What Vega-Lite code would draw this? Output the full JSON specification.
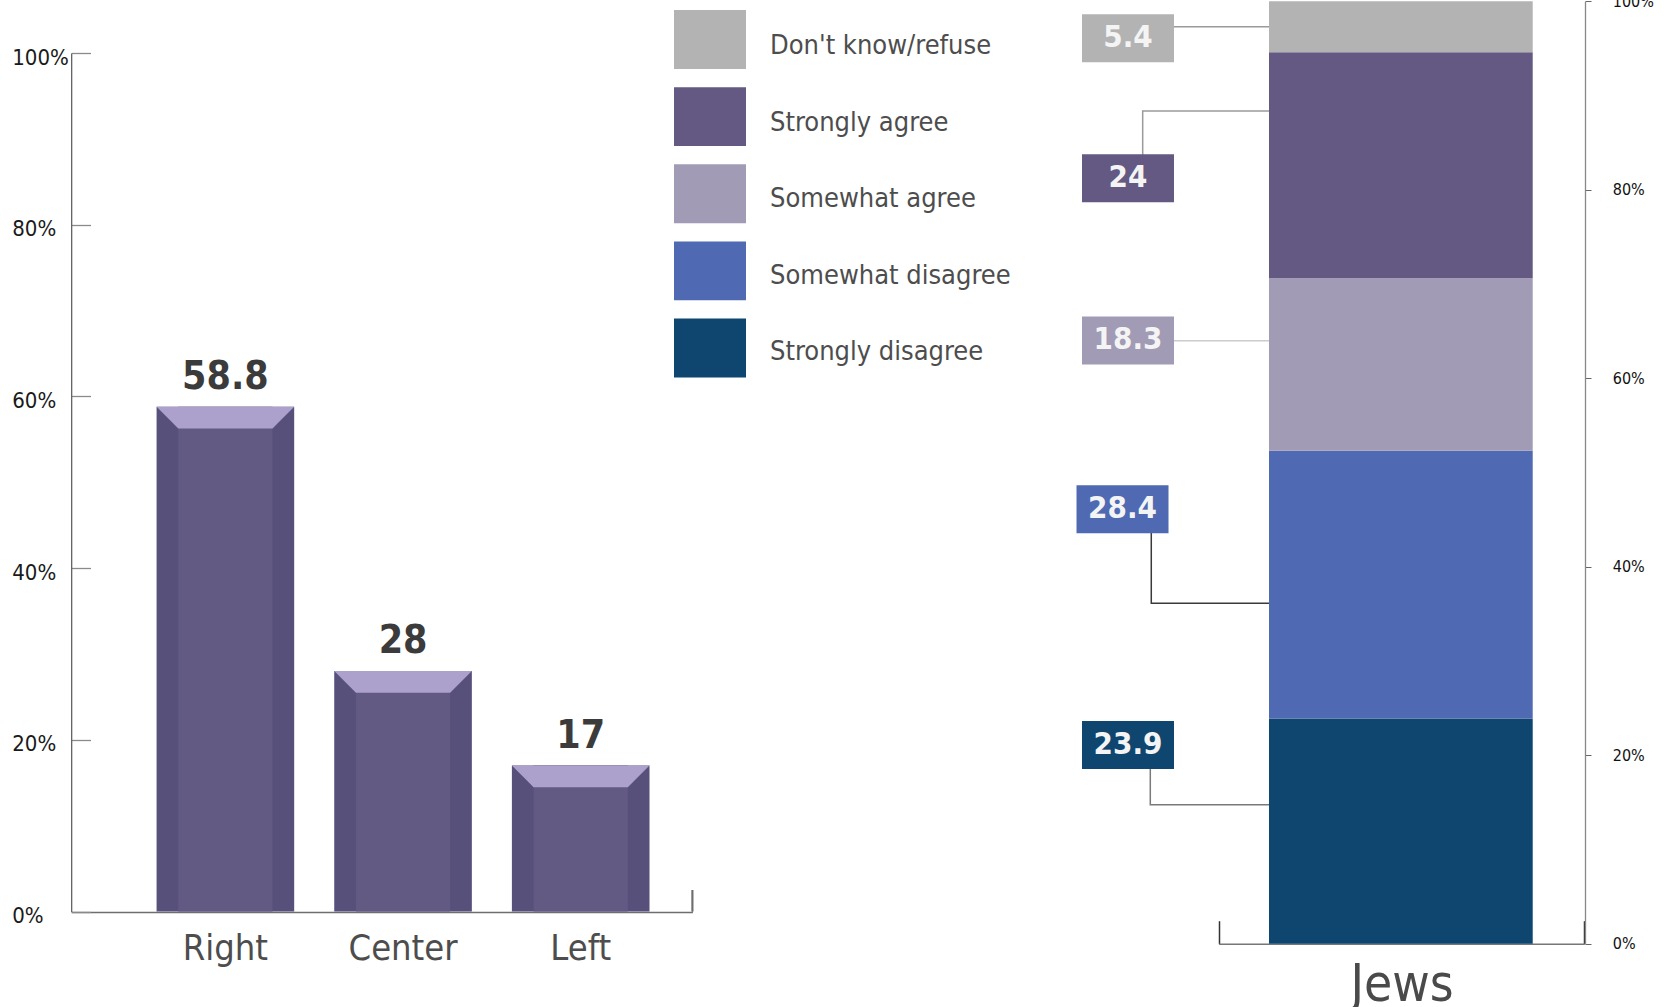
{
  "$schema": "https://vega.github.io/schema/vega-lite/v6.json",
  "width": 1666,
  "height": 1007,
  "padding": 0,
  "autosize": {"type": "none"},
  "background": "#ffffff",
  "config": {
    "view": {"stroke": null},
    "font": "DejaVu Sans Condensed, DejaVu Sans, sans-serif",
    "axis": {"grid": false}
  },
  "datasets": {
    "parties": [
      {"group": "Right", "pct": 58.8},
      {"group": "Center", "pct": 28},
      {"group": "Left", "pct": 17}
    ],
    "segments": [
      {"cat": "Strongly disagree", "value": 23.9},
      {"cat": "Somewhat disagree", "value": 28.4},
      {"cat": "Somewhat agree", "value": 18.3},
      {"cat": "Strongly agree", "value": 24},
      {"cat": "Don't know/refuse", "value": 5.4}
    ],
    "callouts": [
      {"cat": "Don't know/refuse", "value": 5.4, "bx": -24.81, "by": 96.07},
      {"cat": "Strongly agree", "value": 24, "bx": -24.81, "by": 81.22},
      {"cat": "Somewhat agree", "value": 18.3, "bx": -24.81, "by": 64.01},
      {"cat": "Somewhat disagree", "value": 28.4, "bx": -26.31, "by": 46.09},
      {"cat": "Strongly disagree", "value": 23.9, "bx": -24.81, "by": 21.08}
    ],
    "connectors": [
      {"cat": "Don't know/refuse", "step": 1, "cx": -24.81, "cy": 97.3},
      {"cat": "Don't know/refuse", "step": 2, "cx": 13.76, "cy": 97.3},
      {"cat": "Strongly agree", "step": 1, "cx": -20.79, "cy": 81.22},
      {"cat": "Strongly agree", "step": 2, "cx": -20.79, "cy": 88.36},
      {"cat": "Strongly agree", "step": 3, "cx": 13.76, "cy": 88.36},
      {"cat": "Somewhat agree", "step": 1, "cx": -24.81, "cy": 63.99},
      {"cat": "Somewhat agree", "step": 2, "cx": 13.76, "cy": 63.99},
      {"cat": "Somewhat disagree", "step": 1, "cx": -18.44, "cy": 46.09},
      {"cat": "Somewhat disagree", "step": 2, "cx": -18.44, "cy": 36.12},
      {"cat": "Somewhat disagree", "step": 3, "cx": 13.76, "cy": 36.12},
      {"cat": "Strongly disagree", "step": 1, "cx": -18.71, "cy": 21.08},
      {"cat": "Strongly disagree", "step": 2, "cx": -18.71, "cy": 14.75},
      {"cat": "Strongly disagree", "step": 3, "cx": 13.76, "cy": 14.75}
    ]
  },
  "layer": [
    {
      "data": {"name": "parties"},
      "mark": {"type": "rule", "color": "#6e6e6e", "strokeWidth": 1.5},
      "encoding": {
        "x": {"datum": "Left", "bandPosition": 1.312, "scale": {"type": "band", "domain": ["Right", "Center", "Left"], "range": [71.2, 692.4], "paddingInner": 0.2254, "paddingOuter": 0.361, "align": 0.6656, "round": false}, "axis": null},
        "y": {"datum": 0, "type": "quantitative", "scale": {"domain": [0, 100], "range": [911.5, 53], "nice": false}, "axis": null},
        "y2": {"datum": 2.5}
      }
    },
    {
      "data": {"name": "parties"},
      "mark": {"type": "bar", "color": "#57507A"},
      "encoding": {
        "x": {
          "field": "group", "type": "nominal", "title": null,
          "scale": {"type": "band", "domain": ["Right", "Center", "Left"], "range": [71.2, 692.4], "paddingInner": 0.2254, "paddingOuter": 0.361, "align": 0.6656, "round": false},
          "axis": {"orient": "bottom", "offset": -95, "labelAngle": 0, "labelFontSize": 36, "labelColor": "#4d4d4d", "labelPadding": 19, "ticks": false, "domainColor": "#6e6e6e", "domainWidth": 1.5, "title": null, "grid": false}
        },
        "y": {
          "field": "pct", "type": "quantitative",
          "scale": {"domain": [0, 100], "range": [911.5, 53], "nice": false},
          "axis": {"orient": "left", "offset": -71.2, "values": [0, 20, 40, 60, 80, 100], "labelExpr": "datum.value + '%'", "labelAlign": "left", "labelBaseline": "middle", "labelPadding": 78.8, "labelOffset": 4, "labelFontSize": 22, "labelColor": "#1a1a1a", "tickSize": -19.3, "tickColor": "#8a8a8a", "tickWidth": 1.3, "domainColor": "#555555", "domainWidth": 1.2, "grid": false, "title": null}
        }
      }
    },
    {
      "data": {"name": "parties"},
      "mark": {"type": "bar", "color": "#635A84", "width": {"band": 0.6846}},
      "encoding": {
        "x": {"field": "group", "type": "nominal", "scale": {"type": "band", "domain": ["Right", "Center", "Left"], "range": [71.2, 692.4], "paddingInner": 0.2254, "paddingOuter": 0.361, "align": 0.6656, "round": false}, "axis": null},
        "y": {"field": "pct", "type": "quantitative", "scale": {"domain": [0, 100], "range": [911.5, 53], "nice": false}, "axis": null}
      }
    },
    {
      "data": {"name": "parties"},
      "mark": {"type": "point", "shape": "M-1,0L1,0L0.6846,0.3154L-0.6846,0.3154Z", "size": 18934, "filled": true, "opacity": 1, "strokeWidth": 0, "color": "#ACA1CC"},
      "encoding": {
        "x": {"field": "group", "type": "nominal", "scale": {"type": "band", "domain": ["Right", "Center", "Left"], "range": [71.2, 692.4], "paddingInner": 0.2254, "paddingOuter": 0.361, "align": 0.6656, "round": false}, "axis": null},
        "y": {"field": "pct", "type": "quantitative", "scale": {"domain": [0, 100], "range": [911.5, 53], "nice": false}, "axis": null}
      }
    },
    {
      "data": {"name": "parties"},
      "mark": {"type": "text", "fontSize": 39, "fontWeight": "bold", "color": "#3b3b3b", "baseline": "alphabetic", "align": "center", "dy": -18},
      "encoding": {
        "x": {"field": "group", "type": "nominal", "scale": {"type": "band", "domain": ["Right", "Center", "Left"], "range": [71.2, 692.4], "paddingInner": 0.2254, "paddingOuter": 0.361, "align": 0.6656, "round": false}, "axis": null},
        "y": {"field": "pct", "type": "quantitative", "scale": {"domain": [0, 100], "range": [911.5, 53], "nice": false}, "axis": null},
        "text": {"field": "pct", "type": "quantitative"}
      }
    },
    {
      "data": {"name": "callouts"},
      "mark": {"type": "point", "shape": "M-1,-0.8194L1,-0.8194L1,0.8194L-1,0.8194Z", "size": 5184, "filled": true, "opacity": 1, "strokeWidth": 0},
      "encoding": {
        "x": {"datum": 0, "type": "quantitative", "scale": {"domain": [0, 1], "range": [710, 770], "nice": false, "zero": false}, "axis": null},
        "y": {"field": "cat", "type": "nominal", "scale": {"type": "point", "domain": ["Don't know/refuse", "Strongly agree", "Somewhat agree", "Somewhat disagree", "Strongly disagree"], "range": [39.5, 348], "padding": 0}, "axis": null},
        "color": {"field": "cat", "type": "nominal", "legend": null}
      }
    },
    {
      "data": {"name": "callouts"},
      "mark": {"type": "text", "fontSize": 27, "color": "#4d4d4d", "align": "left", "baseline": "middle"},
      "encoding": {
        "x": {"datum": 1, "type": "quantitative", "scale": {"domain": [0, 1], "range": [710, 770], "nice": false, "zero": false}, "axis": null},
        "y": {"field": "cat", "type": "nominal", "scale": {"type": "point", "domain": ["Don't know/refuse", "Strongly agree", "Somewhat agree", "Somewhat disagree", "Strongly disagree"], "range": [46, 352], "padding": 0}, "axis": null},
        "text": {"field": "cat", "type": "nominal"}
      }
    },
    {
      "data": {"name": "connectors"},
      "mark": {"type": "line", "strokeWidth": 1.5},
      "encoding": {
        "x": {"field": "cx", "type": "quantitative", "scale": {"domain": [0, 100], "range": [1218.7, 1584.3], "nice": false, "zero": false}, "axis": null},
        "y": {"field": "cy", "type": "quantitative", "scale": {"domain": [0, 100], "range": [943.7, 1.3], "nice": false}, "axis": null},
        "stroke": {
          "field": "cat", "type": "nominal", "legend": null,
          "scale": {"domain": ["Don't know/refuse", "Strongly agree", "Somewhat agree", "Somewhat disagree", "Strongly disagree"], "range": ["#9a9a9a", "#9a9a9a", "#cccccc", "#3a3a3a", "#7a7a7a"]}
        },
        "order": {"field": "step", "type": "quantitative"}
      }
    },
    {
      "data": {"name": "segments"},
      "transform": [
        {"window": [{"op": "row_number", "as": "rn"}]},
        {"stack": "value", "groupby": [], "sort": [{"field": "rn", "order": "ascending"}], "as": ["lo", "hi"]}
      ],
      "mark": {"type": "bar"},
      "encoding": {
        "x": {
          "datum": 13.76, "type": "quantitative",
          "scale": {"domain": [0, 100], "range": [1218.7, 1584.3], "nice": false, "zero": false},
          "axis": {"orient": "bottom", "offset": -63.3, "values": [0, 100], "labels": false, "tickSize": -23, "tickColor": "#333333", "tickWidth": 1.5, "domainColor": "#777777", "domainWidth": 1.5, "title": "Jews", "titleFontSize": 51, "titleFontWeight": "normal", "titleColor": "#4a4a4a", "titlePadding": 16, "grid": false}
        },
        "x2": {"datum": 85.89},
        "y": {
          "field": "lo", "type": "quantitative",
          "scale": {"domain": [0, 100], "range": [943.7, 1.3], "nice": false},
          "axis": {"orient": "right", "offset": -81, "values": [0, 20, 40, 60, 80, 100], "labelExpr": "datum.value + '%'", "labelFontSize": 16, "labelColor": "#111111", "labelPadding": 21.3, "labelAlign": "left", "labelBaseline": "middle", "tickSize": 6, "tickColor": "#666666", "domainColor": "#888888", "domainWidth": 1.3, "grid": false, "title": null}
        },
        "y2": {"field": "hi"},
        "color": {
          "field": "cat", "type": "nominal", "legend": null,
          "scale": {"domain": ["Don't know/refuse", "Strongly agree", "Somewhat agree", "Somewhat disagree", "Strongly disagree"], "range": ["#B3B3B3", "#635982", "#A19BB5", "#4F6AB2", "#0E4670"]}
        }
      }
    },
    {
      "data": {"name": "callouts"},
      "mark": {"type": "point", "shape": "M-1,-0.5217L1,-0.5217L1,0.5217L-1,0.5217Z", "size": 8464, "filled": true, "opacity": 1, "strokeWidth": 0},
      "encoding": {
        "x": {"field": "bx", "type": "quantitative", "scale": {"domain": [0, 100], "range": [1218.7, 1584.3], "nice": false, "zero": false}, "axis": null},
        "y": {"field": "by", "type": "quantitative", "scale": {"domain": [0, 100], "range": [943.7, 1.3], "nice": false}, "axis": null},
        "color": {"field": "cat", "type": "nominal", "legend": null}
      }
    },
    {
      "data": {"name": "callouts"},
      "mark": {"type": "text", "fontSize": 31, "fontWeight": "bold", "color": "#f4f4f4", "align": "center", "baseline": "middle"},
      "encoding": {
        "x": {"field": "bx", "type": "quantitative", "scale": {"domain": [0, 100], "range": [1218.7, 1584.3], "nice": false, "zero": false}, "axis": null},
        "y": {"field": "by", "type": "quantitative", "scale": {"domain": [0, 100], "range": [943.7, 1.3], "nice": false}, "axis": null},
        "text": {"field": "value", "type": "quantitative"}
      }
    }
  ],
  "resolve": {"scale": {"x": "independent", "y": "independent"}, "axis": {"x": "independent", "y": "independent"}}
}
